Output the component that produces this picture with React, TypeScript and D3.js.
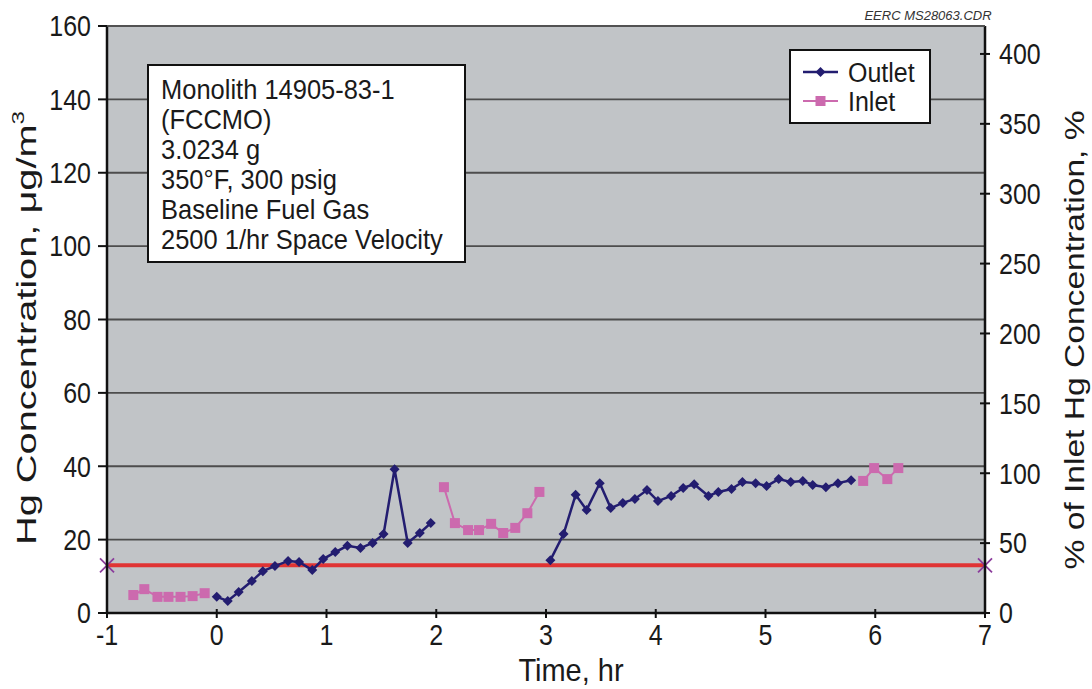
import React from "react";
import * as d3 from "d3";

// time (hr) and Hg concentration (ug/m3); null splits the line into segments
const outletTime = [
  0, 0.1, 0.2, 0.32, 0.42, 0.53, 0.65, 0.75, 0.87, 0.97, 1.08, 1.19, 1.31, 1.42, 1.52, 1.62, 1.74, 1.85, 1.95,
  null,
  3.04, 3.16, 3.27, 3.37, 3.49, 3.59, 3.7, 3.81, 3.92, 4.02, 4.14, 4.25, 4.35, 4.48, 4.57, 4.69, 4.79, 4.91,
  5.01, 5.12, 5.23, 5.34, 5.43, 5.55, 5.66, 5.78,
];
const outletValue = [
  4.4, 3.3, 5.7, 8.7, 11.4, 12.8, 14.2, 13.9, 11.7, 14.7, 16.6, 18.3, 17.7, 19.1, 21.5, 39.2, 19.1, 21.8, 24.5,
  null,
  14.4, 21.5, 32.2, 28.1, 35.4, 28.6, 30.0, 31.1, 33.5, 30.5, 31.9, 34.1, 35.1, 31.9, 33.0, 33.8, 35.7, 35.4,
  34.6, 36.5, 35.7, 36.0, 34.9, 34.3, 35.4, 36.2,
];
const inletTime = [
  -0.76, -0.66, -0.54, -0.44, -0.33, -0.22, -0.11,
  null,
  2.07, 2.17, 2.29, 2.39, 2.5, 2.61, 2.72, 2.83, 2.94,
  null,
  5.89, 5.99, 6.11, 6.21,
];
const inletValue = [
  4.9, 6.5, 4.4, 4.4, 4.4, 4.6, 5.4,
  null,
  34.3, 24.5, 22.6, 22.6, 24.3, 21.8, 23.2, 27.2, 33.0,
  null,
  36.0, 39.5, 36.5, 39.5,
];
const limitTime = [-1, 7];
const limitValue = [13, 13];

const xTicks = [-1, 0, 1, 2, 3, 4, 5, 6, 7];
const yTicks = [0, 20, 40, 60, 80, 100, 120, 140, 160];
const yRightTicks = [0, 50, 100, 150, 200, 250, 300, 350, 400];

const infoLines = [
  "Monolith 14905-83-1",
  "(FCCMO)",
  "3.0234 g",
  "350°F, 300 psig",
  "Baseline Fuel Gas",
  "2500 1/hr Space Velocity",
];

type Pt = [number | null, number | null];

const W = 1092;
const H = 689;
const m = { top: 26, right: 107, bottom: 76, left: 107 };
const font = "'Liberation Sans', Arial, sans-serif";
const outletColor = "#231d70";
const inletColor = "#cc6aae";
const textColor = "#1a1a1a";

// the original artwork is stretched vertically, so text is drawn a little tall
const K = 1.15;

const App = () => {
  const x = d3.scaleLinear().domain([-1, 7]).range([m.left, W - m.right]);
  const y = d3.scaleLinear().domain([0, 160]).range([H - m.bottom, m.top]);
  const yR = d3.scaleLinear().domain([0, 420]).range([H - m.bottom, m.top]);

  const zip = (a: (number | null)[], b: (number | null)[]): Pt[] => a.map((d, i) => [d, b[i]]);
  const outlet = zip(outletTime, outletValue);
  const inlet = zip(inletTime, inletValue);

  const line = d3
    .line<Pt>()
    .defined((d) => d[0] !== null && d[1] !== null)
    .x((d) => x(d[0] as number))
    .y((d) => y(d[1] as number));

  const x0 = x(-1);
  const x1 = x(7);
  const yb = y(0);
  const yt = y(160);

  const diamond = (cx: number, cy: number, r = 5) =>
    `M${cx},${cy - r}L${cx + r},${cy}L${cx},${cy + r}L${cx - r},${cy}Z`;

  const tall = (tx: number, ty: number, k = K) => `translate(${tx},${ty}) scale(1,${k})`;

  return (
    <svg width={W} height={H} style={{ position: "absolute", left: 0, top: 0, background: "#fff" }} fontFamily={font}>
      <rect x={x0} y={yt} width={x1 - x0} height={yb - yt} fill="#c1c4c7" />

      {/* grid */}
      {yTicks.slice(1).map((t) => (
        <line key={t} x1={x0} x2={x1} y1={y(t)} y2={y(t)} stroke="#4d4d4d" strokeWidth={1.8} />
      ))}

      {/* limit line */}
      <path d={line(zip(limitTime, limitValue)) || ""} stroke="#e03434" strokeWidth={4} fill="none" />
      {limitTime.map((t, i) => {
        const cx = x(t);
        const cy = y(limitValue[i]);
        return (
          <g key={t} stroke="#8b3c9c" strokeWidth={1.8}>
            <line x1={cx - 7} x2={cx + 7} y1={cy - 7} y2={cy + 7} />
            <line x1={cx - 7} x2={cx + 7} y1={cy + 7} y2={cy - 7} />
          </g>
        );
      })}

      {/* inlet */}
      <path d={line(inlet) || ""} stroke={inletColor} strokeWidth={2} fill="none" />
      {inlet
        .filter((d) => d[0] !== null)
        .map((d, i) => (
          <rect key={i} x={x(d[0] as number) - 5} y={y(d[1] as number) - 5} width={10} height={10} fill={inletColor} />
        ))}

      {/* outlet */}
      <path d={line(outlet) || ""} stroke={outletColor} strokeWidth={2.5} fill="none" />
      {outlet
        .filter((d) => d[0] !== null)
        .map((d, i) => (
          <path key={i} d={diamond(x(d[0] as number), y(d[1] as number))} fill={outletColor} />
        ))}

      {/* axes */}
      <line x1={x0} x2={x0} y1={yt} y2={yb + 1} stroke="#111" strokeWidth={2.5} />
      <line x1={x1} x2={x1} y1={yt} y2={yb + 1} stroke="#111" strokeWidth={2.5} />
      <line x1={x0} x2={x1} y1={yb} y2={yb} stroke="#111" strokeWidth={2.5} />
      <line x1={x0} x2={x1} y1={yt} y2={yt} stroke="#555" strokeWidth={1.5} />

      {yTicks.map((t) => (
        <g key={t}>
          <line x1={x0 - 9} x2={x0} y1={y(t)} y2={y(t)} stroke="#111" strokeWidth={2} />
          <text transform={tall(x0 - 16, y(t))} dy="0.36em" textAnchor="end" fontSize={25} fill={textColor}>
            {t}
          </text>
        </g>
      ))}
      {yRightTicks.map((t) => (
        <g key={t}>
          <line x1={x1 - 5} x2={x1 + 5} y1={yR(t)} y2={yR(t)} stroke="#111" strokeWidth={2} />
          <text transform={tall(x1 + 14, yR(t))} dy="0.36em" fontSize={25} fill={textColor}>
            {t}
          </text>
        </g>
      ))}
      {xTicks.map((t) => (
        <g key={t}>
          <line x1={x(t)} x2={x(t)} y1={yb - 4} y2={yb + 5} stroke="#111" strokeWidth={2} />
          <text transform={tall(x(t), yb + 32)} textAnchor="middle" fontSize={25} fill={textColor}>
            {t}
          </text>
        </g>
      ))}

      {/* axis titles */}
      <text transform={tall(571, 681, 1.08)} textAnchor="middle" fontSize={29} fill={textColor}>
        Time, hr
      </text>
      <text
        transform={`translate(36,328) rotate(-90) scale(1.42,1)`}
        textAnchor="middle"
        fontSize={28}
        fill={textColor}
      >
        Hg Concentration, μg/m<tspan dy={-12} fontSize={17}>3</tspan>
      </text>
      <text
        transform={`translate(1084,340) rotate(-90) scale(1.2,1)`}
        textAnchor="middle"
        fontSize={28}
        fill={textColor}
      >
        % of Inlet Hg Concentration, %
      </text>
      <text x={928} y={20} textAnchor="middle" fontSize={13} fontStyle="italic" fill="#333">
        EERC MS28063.CDR
      </text>

      {/* info box */}
      <rect x={148} y={65} width={317} height={197} fill="#fff" stroke="#111" strokeWidth={2} />
      {infoLines.map((s, i) => (
        <text key={s} transform={tall(161, 99 + i * 30, 1.08)} fontSize={25.5} fill={textColor}>
          {s}
        </text>
      ))}

      {/* legend */}
      <rect x={790} y={50} width={140} height={73} fill="#fff" stroke="#111" strokeWidth={2} />
      <line x1={803} x2={838} y1={72} y2={72} stroke={outletColor} strokeWidth={2.5} />
      <path d={diamond(820.5, 72)} fill={outletColor} />
      <text transform={tall(848, 72, 1.08)} dy="0.36em" fontSize={25} fill={textColor}>
        Outlet
      </text>
      <line x1={803} x2={838} y1={101} y2={101} stroke={inletColor} strokeWidth={2} />
      <rect x={815.5} y={96} width={10} height={10} fill={inletColor} />
      <text transform={tall(848, 101, 1.08)} dy="0.36em" fontSize={25} fill={textColor}>
        Inlet
      </text>
    </svg>
  );
};

export default App;
